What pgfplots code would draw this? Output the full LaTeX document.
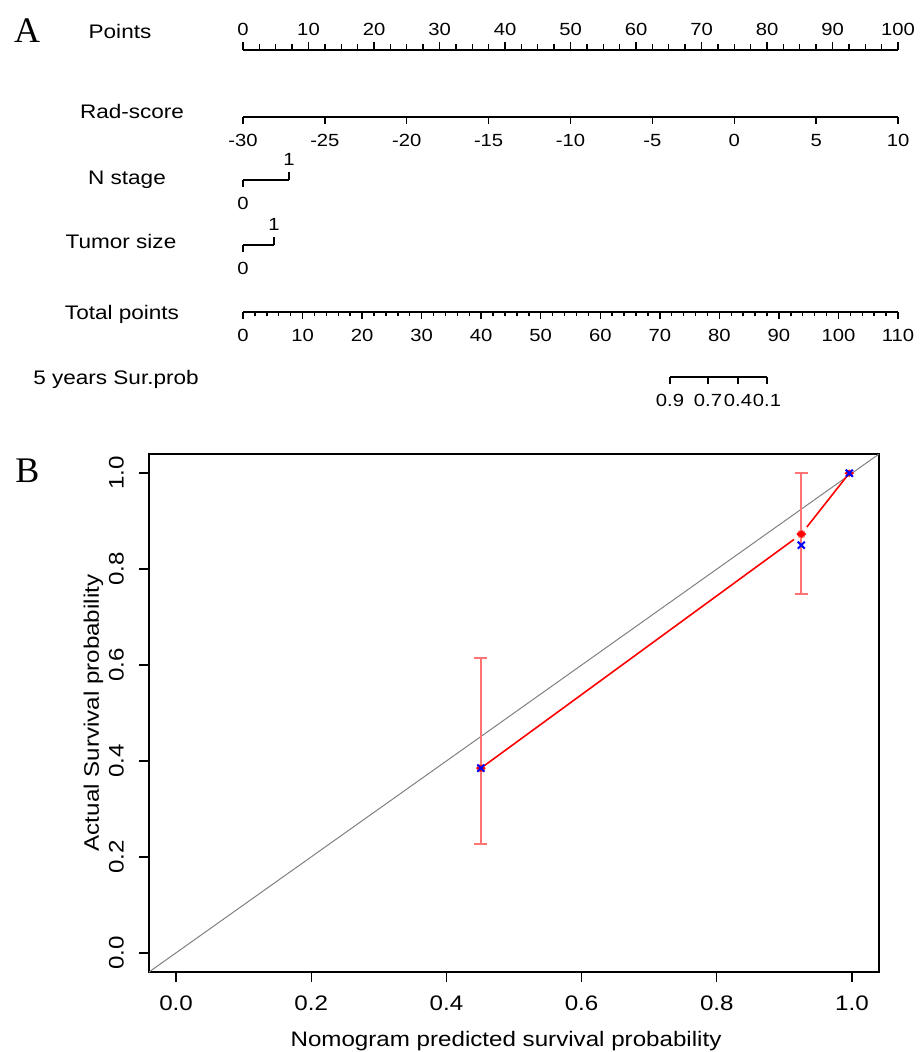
\documentclass[border=0pt]{standalone}
\usepackage{pgfplots}
\pgfplotsset{compat=1.18}
\usepackage{fontspec}
\setmainfont{Liberation Sans}[FakeStretch=1.15]
\newfontfamily\panelfont{Liberation Serif}

\pgfplotsset{
  nomo/.style={scale only axis, width=327.5pt, height=4pt, ymin=0, ymax=1,
    axis y line=none, clip=false,
    axis line style={-, line width=0.7pt},
    tick align=outside, major tick length=3.75pt, minor tick length=3pt,
    every tick/.style={black, line width=0.7pt},
    every minor tick/.style={black, line width=0.7pt},
    ticklabel style={font=\fontsize{8.8}{10}\selectfont},
    /pgf/number format/assume math mode=true},
  nomobot/.style={nomo, axis x line*=bottom, anchor=south west, xticklabel shift=1.3pt},
  nomotop/.style={nomo, axis x line*=top, anchor=north west},
}

\begin{document}
\begin{tikzpicture}
\useasboundingbox (0,0) rectangle (459.5pt,-526pt);

% ---- panel A: nomogram scales
\begin{axis}[nomotop, at={(121.5pt,-25pt)}, xmin=0, xmax=100,
  xtick={0,10,...,100}, minor x tick num=3]
\end{axis}
\begin{axis}[nomobot, at={(121.5pt,-58.5pt)}, xmin=-30, xmax=10,
  xtick={-30,-25,...,10}]
\end{axis}
% N stage (1 = 7 points)
\begin{axis}[nomobot, at={(121.5pt,-90pt)}, width=23pt, xmin=0, xmax=1, xtick={0}]
\end{axis}
\begin{axis}[nomotop, at={(121.5pt,-90pt)}, width=23pt, xmin=0, xmax=1, xtick={1}]
\end{axis}
% Tumor size (1 = 4.7 points)
\begin{axis}[nomobot, at={(121.5pt,-122.5pt)}, width=15.5pt, xmin=0, xmax=1, xtick={0}]
\end{axis}
\begin{axis}[nomotop, at={(121.5pt,-122.5pt)}, width=15.5pt, xmin=0, xmax=1, xtick={1}]
\end{axis}
% Total points
\begin{axis}[nomobot, at={(121.5pt,-156pt)}, xmin=0, xmax=110,
  xtick={0,10,...,110}, minor x tick num=4, minor tick length=2.2pt]
\end{axis}
% 5 years survival probability, in total points
\begin{axis}[nomobot, at={(335pt,-188.5pt)}, width=48.5pt, xmin=71.71, xmax=88.0,
  xtick={71.71,78.09,83.13,88.0}, xticklabels={0.9,0.7,0.4,0.1}]
\end{axis}

\begin{scope}[every node/.style={font=\fontsize{9.8}{12}\selectfont, anchor=base}]
  \node at (60pt,-19.5pt) {Points};
  \node at (66pt,-59.5pt) {Rad-score};
  \node at (63.5pt,-92.5pt) {N stage};
  \node at (60.5pt,-124.5pt) {Tumor size};
  \node at (61pt,-160pt) {Total points};
  \node at (58pt,-192.5pt) {5 years Sur.prob};
\end{scope}
\node[anchor=base, font=\fontsize{18}{20}\panelfont] at (13.5pt,-21.5pt) {A};
\node[anchor=base, font=\fontsize{18}{20}\panelfont] at (13.75pt,-241pt) {B};

% ---- panel B: calibration
\begin{axis}[at={(74.5pt,-227pt)}, anchor=north west, scale only axis,
  width=365pt, height=259pt,
  xmin=-0.04, xmax=1.04, ymin=-0.04, ymax=1.04,
  xtick={0,0.2,0.4,0.6,0.8,1}, ytick={0,0.2,0.4,0.6,0.8,1},
  tick pos=left, tick align=outside, major tick length=5pt,
  axis line style={line width=0.9pt},
  every tick/.style={black, line width=0.7pt},
  ticklabel style={font=\fontsize{10.5}{12}\selectfont},
  xticklabel shift=3.5pt, yticklabel shift=4pt,
  /pgf/number format/fixed, /pgf/number format/fixed zerofill,
  /pgf/number format/precision=1, /pgf/number format/assume math mode=true,
  yticklabel style={rotate=90, anchor=south},
  label style={font=\fontsize{10.5}{12}\selectfont},
  xlabel style={xshift=-4pt}, xlabel shift=3.5pt, ylabel shift=-4pt,
  xlabel={Nomogram predicted survival probability},
  ylabel={Actual Survival probability}]
\addplot[gray, line width=0.5pt] coordinates {(-0.04,-0.04) (1.04,1.04)};
\addplot[red!55, only marks, mark=none,
  error bars/.cd, y dir=both, y explicit,
  error bar style={color=red!55, line width=0.8pt},
  error mark options={color=red!55, rotate=90, mark size=3.3pt, line width=0.8pt}]
  coordinates {
  (0.451,0.385) += (0,0.230) -= (0,0.158)
  (0.925,0.873) += (0,0.127) -= (0,0.125)
  };
\addplot[red, line width=0.8pt, shorten <=2pt, shorten >=4.5pt]
  coordinates {(0.451,0.385) (0.925,0.873)};
\addplot[red, line width=0.8pt, shorten <=4.5pt, shorten >=1.5pt]
  coordinates {(0.925,0.873) (0.996,1.0)};
\addplot[only marks, mark=diamond*, red, mark size=2.1pt, mark options={rotate=90}]
  coordinates {(0.451,0.385) (0.925,0.873) (0.996,1.0)};
\addplot[only marks, mark=x, blue, mark size=2.5pt, mark options={line width=1pt}]
  coordinates {(0.451,0.385) (0.925,0.850) (0.996,1.0)};
\end{axis}
\end{tikzpicture}
\end{document}
